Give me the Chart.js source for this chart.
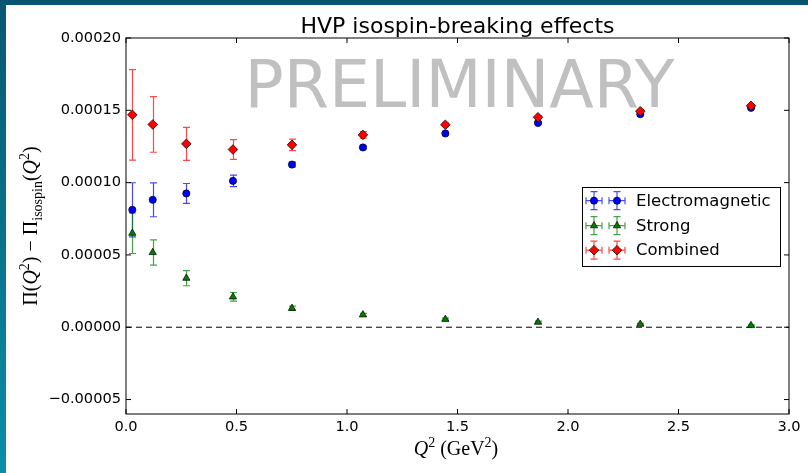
<!DOCTYPE html>
<html><head><meta charset="utf-8">
<script src="https://cdn.jsdelivr.net/npm/chart.js@4/dist/chart.umd.min.js"></script>
<style>html,body{margin:0;padding:0;background:#fff;overflow:hidden}canvas{display:block}</style>
</head><body>
<canvas id="c" width="808" height="473"></canvas>
<script>
// ---- data ----
const q2Values = [0.0286, 0.121, 0.273, 0.484, 0.751, 1.072, 1.445, 1.864, 2.327, 2.828];
const emValues = [8.12e-5, 8.81e-5, 9.25e-5, 1.012e-4, 1.125e-4, 1.243e-4, 1.340e-4, 1.413e-4, 1.473e-4, 1.517e-4];
const emErrors = [1.87e-5, 1.17e-5, 6.9e-6, 4.0e-6, 1.6e-6, 1.0e-6, 0.8e-6, 0.7e-6, 0.6e-6, 0.5e-6];
const strongValues = [6.5e-5, 5.17e-5, 3.39e-5, 2.10e-5, 1.31e-5, 8.6e-6, 5.5e-6, 3.5e-6, 2.1e-6, 1.2e-6];
const strongErrors = [1.4e-5, 8.7e-6, 5.2e-6, 3.0e-6, 1.5e-6, 1.0e-6, 0.8e-6, 0.7e-6, 0.6e-6, 0.5e-6];
const combinedValues = [1.469e-4, 1.402e-4, 1.268e-4, 1.229e-4, 1.261e-4, 1.330e-4, 1.400e-4, 1.452e-4, 1.494e-4, 1.531e-4];
const combinedErrors = [3.13e-5, 1.92e-5, 1.14e-5, 6.8e-6, 4.0e-6, 2.2e-6, 1.2e-6, 1.0e-6, 0.9e-6, 0.8e-6];
const seriesLabels = ['Electromagnetic', 'Strong', 'Combined'];
const xTickValues = [0, 0.5, 1.0, 1.5, 2.0, 2.5, 3.0];
const yTickValues = [-0.00005, 0, 0.00005, 0.0001, 0.00015, 0.0002];
const titleText = 'HVP isospin-breaking effects';
const watermarkText = 'PRELIMINARY';

const errorArrays = [emErrors, strongErrors, combinedErrors];
const barColors = ['rgba(0,0,255,0.72)', 'rgba(0,128,0,0.72)', 'rgba(255,0,0,0.72)'];

Chart.defaults.font.family = 'DejaVu Sans';
Chart.defaults.color = '#000';

function pts(vals){ return q2Values.map((x,i)=>({x:x, y:vals[i]})); }

const SANS = 'DejaVu Sans';
const SERIF = 'Liberation Serif';

function drawRich(ctx, parts, size){
  let total = 0;
  const ms = parts.map(p=>{
    const fs = size*(p.scale||1);
    ctx.font = (p.it?'italic ':'') + fs + 'px "' + SERIF + '"';
    const w = ctx.measureText(p.t).width;
    total += w;
    return {fs, w};
  });
  let x = -total/2;
  parts.forEach((p,i)=>{
    ctx.font = (p.it?'italic ':'') + ms[i].fs + 'px "' + SERIF + '"';
    ctx.fillText(p.t, x, (p.dy||0)*size);
    x += ms[i].w;
  });
  return total;
}

const decor = {
  id: 'decor',
  beforeDraw(chart){
    const ctx = chart.ctx;
    ctx.save();
    const g = ctx.createLinearGradient(0,0,0,473);
    g.addColorStop(0,'#0a5670'); g.addColorStop(1,'#0a8ea6');
    ctx.fillStyle = g; ctx.fillRect(0,0,808,473);
    ctx.fillStyle = '#085570'; ctx.fillRect(0,0,808,5);
    ctx.fillStyle = '#fff'; ctx.fillRect(6,5,802,468);
    ctx.restore();
  },
  beforeDatasetsDraw(chart){
    const ctx = chart.ctx, xs = chart.scales.x, ys = chart.scales.y, a = chart.chartArea;
    ctx.save();
    ctx.fillStyle = '#c0c0c0';
    ctx.font = '65px "' + SANS + '"';
    ctx.textAlign = 'center'; ctx.textBaseline = 'alphabetic';
    ctx.fillText(watermarkText, 459.5, 107);
    const y0 = ys.getPixelForValue(0);
    ctx.strokeStyle = '#000'; ctx.lineWidth = 1; ctx.setLineDash([6,4]);
    ctx.beginPath(); ctx.moveTo(a.left, y0); ctx.lineTo(a.right, y0); ctx.stroke();
    ctx.setLineDash([]);
    chart.data.datasets.forEach((ds, di)=>{
      const errs = errorArrays[di];
      ctx.strokeStyle = barColors[di]; ctx.lineWidth = 1.2;
      ds.data.forEach((p, j)=>{
        const x = Math.round(xs.getPixelForValue(p.x)) + 0.5;
        const yt = ys.getPixelForValue(p.y + errs[j]);
        const yb = ys.getPixelForValue(p.y - errs[j]);
        ctx.beginPath();
        ctx.moveTo(x, yt); ctx.lineTo(x, yb);
        ctx.moveTo(x-3.5, yt); ctx.lineTo(x+3.5, yt);
        ctx.moveTo(x-3.5, yb); ctx.lineTo(x+3.5, yb);
        ctx.stroke();
      });
    });
    ctx.restore();
  },
  afterDraw(chart){
    const ctx = chart.ctx, xs = chart.scales.x, ys = chart.scales.y, a = chart.chartArea;
    ctx.save();
    ctx.strokeStyle = '#000'; ctx.lineWidth = 1;
    ctx.strokeRect(a.left, a.top, a.right - a.left, a.bottom - a.top);
    ctx.beginPath();
    xTickValues.forEach(v=>{
      const x = xs.getPixelForValue(v);
      ctx.moveTo(x, a.bottom); ctx.lineTo(x, a.bottom-5);
      ctx.moveTo(x, a.top); ctx.lineTo(x, a.top+5);
    });
    yTickValues.forEach(v=>{
      const y = ys.getPixelForValue(v);
      ctx.moveTo(a.left, y); ctx.lineTo(a.left+5, y);
      ctx.moveTo(a.right, y); ctx.lineTo(a.right-5, y);
    });
    ctx.stroke();
    ctx.fillStyle = '#000';
    ctx.font = '22px "' + SANS + '"';
    ctx.textAlign = 'center'; ctx.textBaseline = 'alphabetic';
    ctx.fillText(titleText, (a.left+a.right)/2, 33);
    ctx.textAlign = 'left';
    ctx.save();
    ctx.translate(456, 455);
    drawRich(ctx, [
      {t:'Q', it:true}, {t:'2', scale:0.7, dy:-0.42}, {t:' (GeV'}, {t:'2', scale:0.7, dy:-0.42}, {t:')'}
    ], 20);
    ctx.restore();
    ctx.save();
    ctx.translate(37, 226);
    ctx.rotate(-Math.PI/2);
    drawRich(ctx, [
      {t:'Π('}, {t:'Q', it:true}, {t:'2', scale:0.7, dy:-0.42}, {t:') − Π'},
      {t:'isospin', scale:0.7, dy:0.25}, {t:'('}, {t:'Q', it:true}, {t:'2', scale:0.7, dy:-0.42}, {t:')'}
    ], 20);
    ctx.restore();
    const lx = 582, ly = 187, lw = 198, lh = 79;
    ctx.fillStyle = '#fff'; ctx.fillRect(lx, ly, lw, lh);
    ctx.strokeStyle = '#000'; ctx.lineWidth = 1;
    ctx.strokeRect(lx+0.5, ly+0.5, lw, lh);
    const rows = [200.7, 225.7, 250.2];
    chart.data.datasets.forEach((ds, di)=>{
      const y = rows[di];
      [594, 617].forEach(mx=>{
        ctx.strokeStyle = barColors[di]; ctx.lineWidth = 1.2;
        ctx.beginPath();
        ctx.moveTo(mx-8, y); ctx.lineTo(mx+8, y);
        ctx.moveTo(mx-8, y-3.5); ctx.lineTo(mx-8, y+3.5);
        ctx.moveTo(mx+8, y-3.5); ctx.lineTo(mx+8, y+3.5);
        ctx.moveTo(mx, y-9); ctx.lineTo(mx, y+9);
        ctx.moveTo(mx-3.5, y-9); ctx.lineTo(mx+3.5, y-9);
        ctx.moveTo(mx-3.5, y+9); ctx.lineTo(mx+3.5, y+9);
        ctx.stroke();
        ctx.fillStyle = ds.backgroundColor; ctx.strokeStyle = '#000';
        ctx.lineWidth = ds.borderWidth;
        Chart.helpers.drawPoint(ctx, {pointStyle: ds.pointStyle, radius: ds.pointRadius, borderWidth: ds.borderWidth, rotation: 0}, mx, y);
      });
      ctx.fillStyle = '#000';
      ctx.font = '16.5px "' + SANS + '"';
      ctx.textAlign = 'left'; ctx.textBaseline = 'middle';
      ctx.fillText(ds.label, 636, y+1);
    });
    ctx.restore();
  }
};

new Chart(document.getElementById('c'), {
  type: 'scatter',
  data: {
    datasets: [
      {label: seriesLabels[0], data: pts(emValues), pointStyle: 'circle', pointRadius: 3.6, pointHoverRadius: 3.6,
       backgroundColor: '#0000ff', borderColor: '#000', borderWidth: 0.7, order: 2},
      {label: seriesLabels[1], data: pts(strongValues), pointStyle: 'triangle', pointRadius: 4.2, pointHoverRadius: 4.2,
       backgroundColor: '#008000', borderColor: '#000', borderWidth: 0.7, order: 1},
      {label: seriesLabels[2], data: pts(combinedValues), pointStyle: 'rectRot', pointRadius: 4.8, pointHoverRadius: 4.8,
       backgroundColor: '#ff0000', borderColor: '#000', borderWidth: 0.7, order: 0}
    ]
  },
  options: {
    responsive: false, animation: false, devicePixelRatio: 1,
    layout: {padding: {top: 38, right: 19, left: 0, bottom: 0}},
    plugins: {legend: {display: false}, tooltip: {enabled: false}, title: {display: false}},
    events: [],
    scales: {
      x: {
        type: 'linear', min: 0, max: 3,
        grid: {display: false, drawTicks: false}, border: {display: false},
        afterBuildTicks: s => { s.ticks = xTickValues.map(v=>({value:v})); },
        afterFit: s => { s.height = 59; },
        ticks: {font: {size: 14.6}, color: '#000', padding: 4, maxRotation: 0,
                callback: v => Number(v).toFixed(1)}
      },
      y: {
        type: 'linear', min: -0.00006, max: 0.0002,
        grid: {display: false, drawTicks: false}, border: {display: false},
        afterBuildTicks: s => { s.ticks = yTickValues.map(v=>({value:v})); },
        afterFit: s => { s.width = 126; },
        ticks: {font: {size: 14.6}, color: '#000', padding: 5,
                callback: v => Number(v).toFixed(5).replace('-', '\u2212')}
      }
    }
  },
  plugins: [decor]
});
</script>
</body></html>
